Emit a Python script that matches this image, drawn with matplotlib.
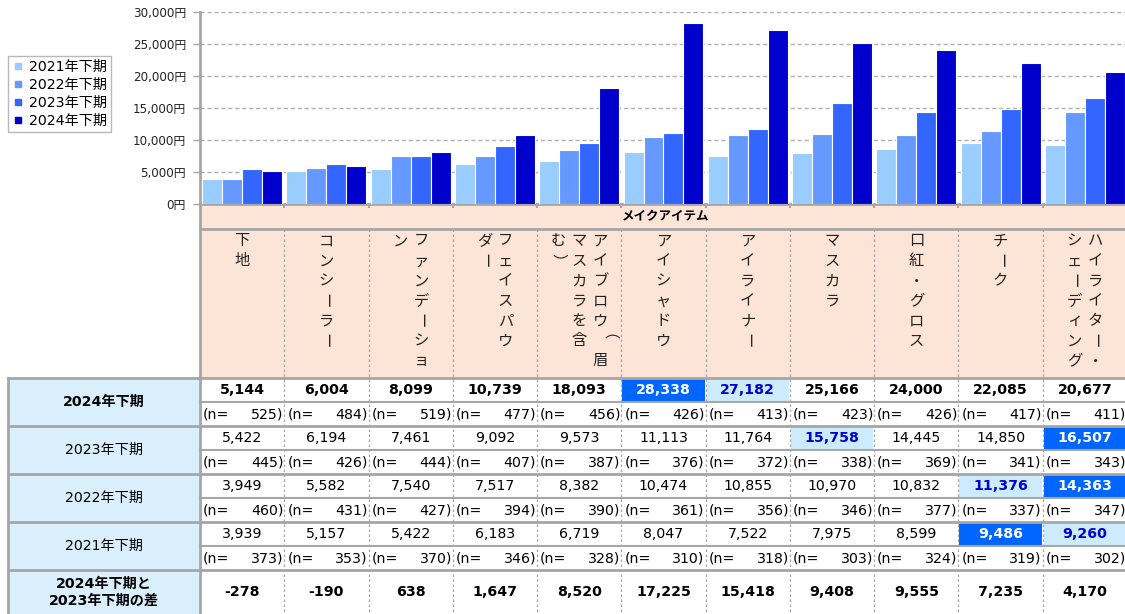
import matplotlib
matplotlib.use("Agg")
import matplotlib.pyplot as plt
from matplotlib.patches import Rectangle
from matplotlib.lines import Line2D

plt.rcParams['font.family'] = ['DejaVu Sans', 'Noto Sans CJK JP']

# ---------------- data ----------------
categories = ["下地", "コンシーラー", "ファンデーション", "フェイスパウダー",
              "アイブロウ（眉マスカラを含む）", "アイシャドウ", "アイライナー",
              "マスカラ", "口紅・グロス", "チーク", "ハイライター・シェーディング"]
# vertical label columns (right-to-left), as laid out in the header
category_columns = [["下地"], ["コンシーラー"], ["ファンデーショ", "ン"],
                    ["フェイスパウ", "ダー"], ["アイブロウ（眉", "マスカラを含", "む）"],
                    ["アイシャドウ"], ["アイライナー"], ["マスカラ"], ["口紅・グロス"],
                    ["チーク"], ["ハイライター・", "シェーディング"]]
series_names = ["2021年下期", "2022年下期", "2023年下期", "2024年下期"]
v2021 = [3939, 5157, 5422, 6183, 6719, 8047, 7522, 7975, 8599, 9486, 9260]
v2022 = [3949, 5582, 7540, 7517, 8382, 10474, 10855, 10970, 10832, 11376, 14363]
v2023 = [5422, 6194, 7461, 9092, 9573, 11113, 11764, 15758, 14445, 14850, 16507]
v2024 = [5144, 6004, 8099, 10739, 18093, 28338, 27182, 25166, 24000, 22085, 20677]
n2021 = [373, 353, 370, 346, 328, 310, 318, 303, 324, 319, 302]
n2022 = [460, 431, 427, 394, 390, 361, 356, 346, 377, 337, 347]
n2023 = [445, 426, 444, 407, 387, 376, 372, 338, 369, 341, 343]
n2024 = [525, 484, 519, 477, 456, 426, 413, 423, 426, 417, 411]
diff_24_23 = [-278, -190, 638, 1647, 8520, 17225, 15418, 9408, 9555, 7235, 4170]
row_labels = ["2024年下期", "2023年下期", "2022年下期", "2021年下期"]
diff_label = "2024年下期と\n2023年下期の差"
header_label = "メイクアイテム"
# highlighted cells per table row (2024, 2023, 2022, 2021): (dark, light)
hl_dark = [[5], [10], [10], [9]]
hl_light = [[6], [7], [9], [10]]
y_ticks = [0, 5000, 10000, 15000, 20000, 25000, 30000]

# ---------------- style ----------------
bar_colors = ["#99CCFF", "#6699FF", "#3366FF", "#0000CC"]
grey = "#A6A6A6"
salmon = "#FCE4D6"
lblue = "#D9EFFC"
dark_hl = "#0066FF"
light_hl = "#CCEBFF"
tfs = 10.2

W, H = 1125, 614
fig = plt.figure(figsize=(W / 100, H / 100), dpi=100)

# table axes in pixel space
tab = fig.add_axes([0, 0, 1, 1])
tab.set_xlim(0, W)
tab.set_ylim(H, 0)
tab.axis("off")

x0, x1 = 200, 1127
ncat = len(categories)
cw = (x1 - x0) / ncat
col_l = [x0 + i * cw for i in range(ncat)]

# header backgrounds
tab.add_patch(Rectangle((x0, 205), W - x0, 378 - 205, facecolor=salmon, edgecolor="none"))
tab.text((x0 + W) / 2 + 3, 217, header_label, ha="center", va="center",
         fontsize=9, fontweight="bold")
tab.plot([x0, W], [229, 229], color=grey, lw=2)

# vertical category labels
for i, cols in enumerate(category_columns):
    cx = col_l[i] + cw / 2
    nc = len(cols)
    for k, s in enumerate(cols):
        xx = cx + (nc - 1) / 2 * 21 - k * 21
        for j, ch in enumerate(s):
            rot = -90 if ch in "ー（）" else 0
            tab.text(xx, 241 + 20 * j, ch, ha="center", va="center",
                     fontsize=11, rotation=rot, color="#222222")

# left label column
tab.add_patch(Rectangle((8, 378), x0 - 8, H - 378, facecolor=lblue, edgecolor="none"))

values = [v2024, v2023, v2022, v2021]
ns = [n2024, n2023, n2022, n2021]
for r in range(4):
    top = 378 + 48 * r
    tab.text(104, top + 24, row_labels[r], ha="center", va="center", fontsize=tfs,
             fontweight="bold" if r == 0 else "normal")
    for i in range(ncat):
        l = col_l[i]
        bold = r == 0
        color = "black"
        if i in hl_dark[r]:
            tab.add_patch(Rectangle((l + 1, top + 1), cw - 2, 22, facecolor=dark_hl,
                                    edgecolor="none"))
            bold, color = True, "white"
        elif i in hl_light[r]:
            tab.add_patch(Rectangle((l + 1, top + 1), cw - 2, 22, facecolor=light_hl,
                                    edgecolor="none"))
            bold, color = True, "#0000CC"
        tab.text(l + cw / 2, top + 12, f"{values[r][i]:,}", ha="center", va="center",
                 fontsize=tfs, fontweight="bold" if bold else "normal", color=color)
        tab.text(l + 3, top + 36, "(n=", ha="left", va="center", fontsize=tfs)
        tab.text(l + cw - 1, top + 36, f"{ns[r][i]})", ha="right", va="center", fontsize=tfs)
    tab.plot([8, W], [top, top], color=grey, lw=2)
    tab.plot([x0, W], [top + 24, top + 24], color=grey, lw=1.5)

tab.plot([8, W], [570, 570], color=grey, lw=2)
tab.text(104, 592, diff_label, ha="center", va="center", fontsize=tfs,
         fontweight="bold", linespacing=1.25)
for i in range(ncat):
    tab.text(col_l[i] + cw / 2, 592, f"{diff_24_23[i]:,}", ha="center", va="center",
             fontsize=tfs, fontweight="bold")

# grid lines of table
for i in range(1, ncat):
    tab.plot([col_l[i], col_l[i]], [229, H], color=grey, lw=0.9, ls=(0, (2, 2)))
tab.plot([x0, x0], [205, H], color=grey, lw=2)
tab.plot([8, 8], [378, H], color=grey, lw=2)

# ---------------- bar chart ----------------
ax = fig.add_axes([x0 / W, 1 - 204 / H, (x1 - x0) / W, (204 - 12) / H])
ax.set_facecolor("none")
bw = 0.237
xs = list(range(ncat))
for j, (name, vals) in enumerate(zip(series_names, [v2021, v2022, v2023, v2024])):
    ax.bar([x + (j - 1.5) * bw for x in xs], vals, width=bw, color=bar_colors[j],
           edgecolor="white", linewidth=0.8, label=name, zorder=3)
ax.set_xlim(-0.5, ncat - 0.5)
ax.set_ylim(0, 30000)
ax.set_yticks(y_ticks)
ax.set_yticklabels([f"{v:,}円" for v in y_ticks], fontsize=8.6, color="#222222")
ax.set_xticks([x + 0.5 for x in xs[:-1]])
ax.set_xticklabels([])
ax.tick_params(axis="x", length=3, color=grey, width=1.5)
ax.tick_params(axis="y", length=5, color=grey, width=1, pad=5)
ax.yaxis.grid(True, color="#B0B0B0", ls=(0, (3, 2)), lw=1, zorder=0)
for s in ["top", "right"]:
    ax.spines[s].set_visible(False)
for s in ["left", "bottom"]:
    ax.spines[s].set_color(grey)
    ax.spines[s].set_linewidth(2)

handles = [Line2D([], [], marker="s", ls="none", color=c, markersize=5) for c in bar_colors]
leg = fig.legend(handles, series_names, loc="upper left",
                 bbox_to_anchor=(8 / W, 1 - 56 / H), fontsize=10.2, frameon=True,
                 fancybox=False, borderpad=0.3, handlelength=0.8, handletextpad=0.35,
                 labelspacing=0.28, borderaxespad=0)
leg.get_frame().set_edgecolor(grey)
leg.get_frame().set_linewidth(1)

fig.savefig("out.png", dpi=100)
